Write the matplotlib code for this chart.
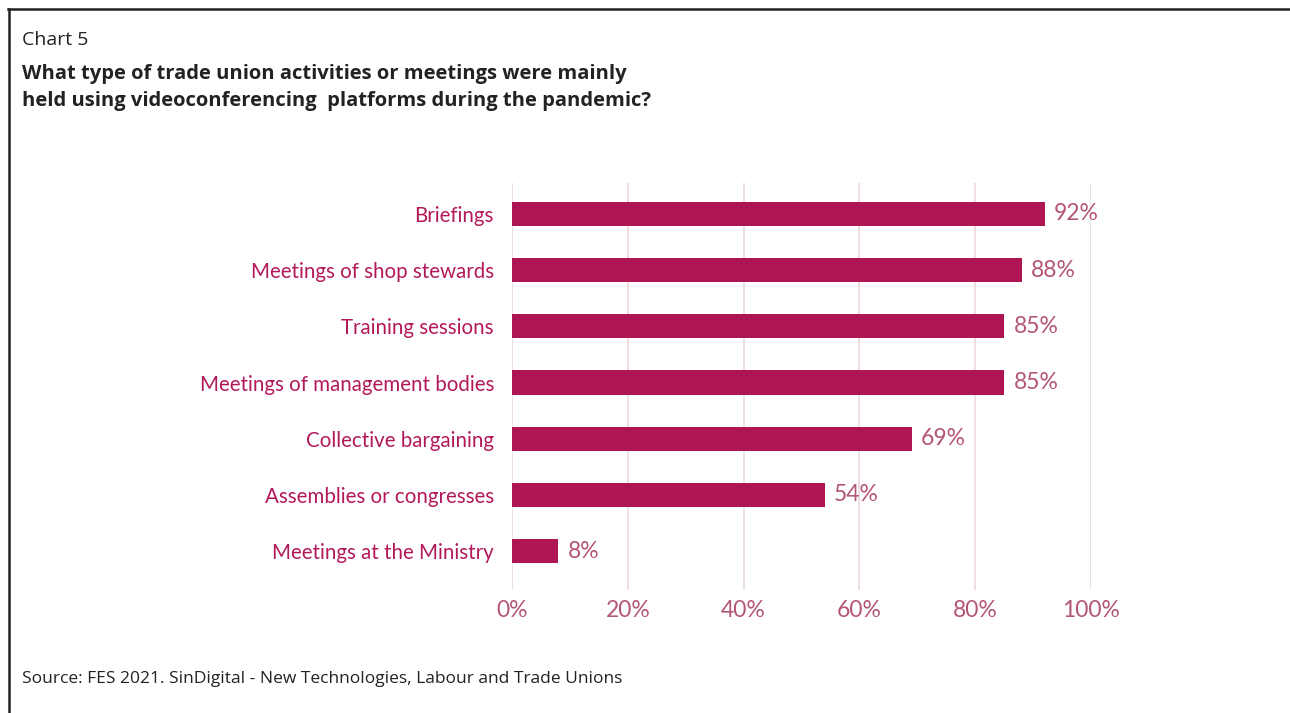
import matplotlib.pyplot as plt
from matplotlib.lines import Line2D

categories = ['Briefings', 'Meetings of shop stewards', 'Training sessions',
              'Meetings of management bodies', 'Collective bargaining',
              'Assemblies or congresses', 'Meetings at the Ministry']
shares = [92, 88, 85, 85, 69, 54, 8]
ticks = [0, 20, 40, 60, 80, 100]

BAR = '#ad1652'
CAT = '#b3195a'
VAL = '#b35674'
GRID = '#ecd9de'
HEAD = ['Open Sans', 'DejaVu Sans']

plt.rcParams['font.family'] = ['Lato', 'DejaVu Sans']


def main():
    fig = plt.figure(figsize=(12.9, 7.13), dpi=100)
    W, H = 1290, 713

    # frame lines (top + left only)
    fig.add_artist(Line2D([8 / W, 1], [1 - 9 / H, 1 - 9 / H], color='#222222', lw=1.8))
    fig.add_artist(Line2D([9 / W, 9 / W], [0, 1 - 9 / H], color='#222222', lw=1.8))

    fig.text(22 / W, 1 - 40 / H, 'Chart 5', fontsize=14, color='#222222', va='center',
             family=HEAD)
    fig.text(22 / W, 1 - 74 / H, 'What type of trade union activities or meetings were mainly',
             fontsize=14.5, fontweight='bold', color='#222222', va='center', family=HEAD)
    fig.text(22 / W, 1 - 101 / H, 'held using videoconferencing  platforms during the pandemic?',
             fontsize=14.5, fontweight='bold', color='#222222', va='center', family=HEAD)
    fig.text(22 / W, 1 - 679 / H,
             'Source: FES 2021. SinDigital - New Technologies, Labour and Trade Unions',
             fontsize=12.5, color='#222222', va='center', family=HEAD)

    ax = fig.add_axes([512 / W, 1 - 590 / H, 579 / W, 407 / H])
    pos = list(range(len(categories)))
    ax.barh(pos, shares, height=0.43, color=BAR, zorder=2)
    for p, v in zip(pos, shares):
        ax.text(v + 1.6, p, f'{v}%', va='center', ha='left', fontsize=16.5, color=VAL)

    ax.set_xlim(0, 100)
    ax.set_ylim(6.69, -0.55)
    ax.set_xticks(ticks)
    ax.set_xticklabels([f'{t}%' for t in ticks], fontsize=16.5, color=VAL)
    ax.set_yticks(pos)
    ax.set_yticklabels(categories, fontsize=14.8, color=CAT)
    ax.tick_params(axis='both', length=0)
    ax.tick_params(axis='y', pad=13)
    ax.tick_params(axis='x', pad=7)
    ax.grid(axis='x', color=GRID, lw=1.2, zorder=0)
    for s in ax.spines.values():
        s.set_visible(False)

    fig.savefig('out.png', dpi=100)
    plt.close(fig)


if __name__ == '__main__':
    main()
